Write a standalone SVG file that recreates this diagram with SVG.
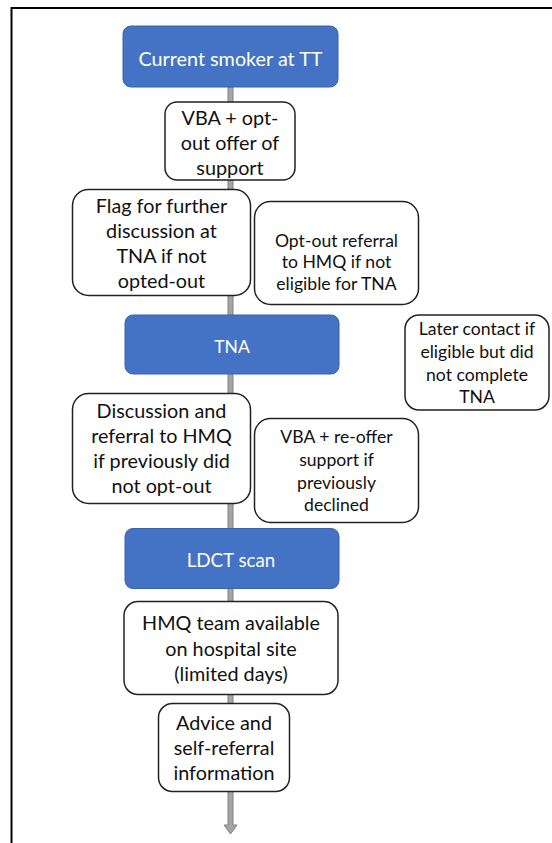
<svg xmlns="http://www.w3.org/2000/svg" width="552" height="843" viewBox="0 0 552 843">
  <style>
    .frame { fill: none; stroke: #000; stroke-width: 2; }
    .stage { fill: #4472C4; stroke: #3A63AE; stroke-width: 1; }
    .stage-text { fill: #FFFFFF; font-family: Lato, "Liberation Sans", sans-serif; font-size: 19.8px; text-anchor: middle; dominant-baseline: central; }
    .note { fill: #FFFFFF; stroke: #222; stroke-width: 1.5; }
    .note-text { fill: #111; font-family: Lato, "Liberation Sans", sans-serif; font-size: 19.8px; text-anchor: middle; dominant-baseline: central; }
    .small { font-size: 17.6px; }
    .flow { fill: #A5A5A5; stroke: #808080; stroke-width: 1; }
  </style>
  <rect width="552" height="843" fill="#FFFFFF"/>
  <rect class="frame" x="11.5" y="8" width="600" height="900"/>

  <g id="connectors">
    <polygon class="flow" points="228,87 233,87 233,825 237,825 230.5,834 224,825 228,825"/>
  </g>

  <g id="current-smoker">
    <rect class="stage" x="123" y="26" width="215" height="61" rx="8"/>
    <text class="stage-text" x="230.5" y="58">Current smoker at TT</text>
  </g>

  <g id="vba-opt-out">
    <rect class="note" x="165" y="102" width="130" height="78" rx="12"/>
    <text class="note-text" x="230" y="117">VBA + opt-</text>
    <text class="note-text" x="230" y="142">out offer of</text>
    <text class="note-text" x="230" y="167">support</text>
  </g>

  <g id="flag-discussion">
    <rect class="note" x="72.5" y="189.5" width="178" height="106" rx="16"/>
    <text class="note-text" x="161.5" y="205">Flag for further</text>
    <text class="note-text" x="161.5" y="230">discussion at</text>
    <text class="note-text" x="161.5" y="255">TNA if not</text>
    <text class="note-text" x="161.5" y="280">opted-out</text>
  </g>

  <g id="opt-out-referral">
    <rect class="note" x="254.5" y="201.5" width="164" height="103" rx="16"/>
    <text class="note-text small" x="336.5" y="240">Opt-out referral</text>
    <text class="note-text small" x="336.5" y="261.5">to HMQ if not</text>
    <text class="note-text small" x="336.5" y="283">eligible for TNA</text>
  </g>

  <g id="tna">
    <rect class="stage" x="125" y="315" width="214" height="59" rx="8"/>
    <text class="stage-text" x="232" y="346.5" style="font-size:17.5px">TNA</text>
  </g>

  <g id="later-contact">
    <rect class="note" x="405" y="315" width="144" height="95" rx="14"/>
    <text class="note-text small" x="477" y="328.5">Later contact if</text>
    <text class="note-text small" x="477" y="351">eligible but did</text>
    <text class="note-text small" x="477" y="374">not complete</text>
    <text class="note-text small" x="477" y="396.5">TNA</text>
  </g>

  <g id="discussion-referral">
    <rect class="note" x="72.5" y="393.5" width="178" height="110" rx="16"/>
    <text class="note-text" x="161.5" y="410">Discussion and</text>
    <text class="note-text" x="161.5" y="435">referral to HMQ</text>
    <text class="note-text" x="161.5" y="460">if previously did</text>
    <text class="note-text" x="161.5" y="485">not opt-out</text>
  </g>

  <g id="vba-re-offer">
    <rect class="note" x="254.5" y="418.5" width="164" height="104" rx="16"/>
    <text class="note-text small" x="336.5" y="436.5">VBA + re-offer</text>
    <text class="note-text small" x="336.5" y="459.5">support if</text>
    <text class="note-text small" x="336.5" y="482">previously</text>
    <text class="note-text small" x="336.5" y="504">declined</text>
  </g>

  <g id="ldct-scan">
    <rect class="stage" x="125" y="528.5" width="214" height="60" rx="8"/>
    <text class="stage-text" x="231" y="559.5" style="font-size:18.8px">LDCT scan</text>
  </g>

  <g id="hmq-team">
    <rect class="note" x="124" y="601.5" width="214" height="93" rx="14"/>
    <text class="note-text" x="231" y="621.5">HMQ team available</text>
    <text class="note-text" x="231" y="647.5">on hospital site</text>
    <text class="note-text" x="231" y="673">(limited days)</text>
  </g>

  <g id="advice-info">
    <rect class="note" x="158.5" y="703.5" width="131" height="88" rx="14"/>
    <text class="note-text" x="224" y="721.5">Advice and</text>
    <text class="note-text" x="224" y="746.5">self-referral</text>
    <text class="note-text" x="224" y="771.5">information</text>
  </g>
</svg>
